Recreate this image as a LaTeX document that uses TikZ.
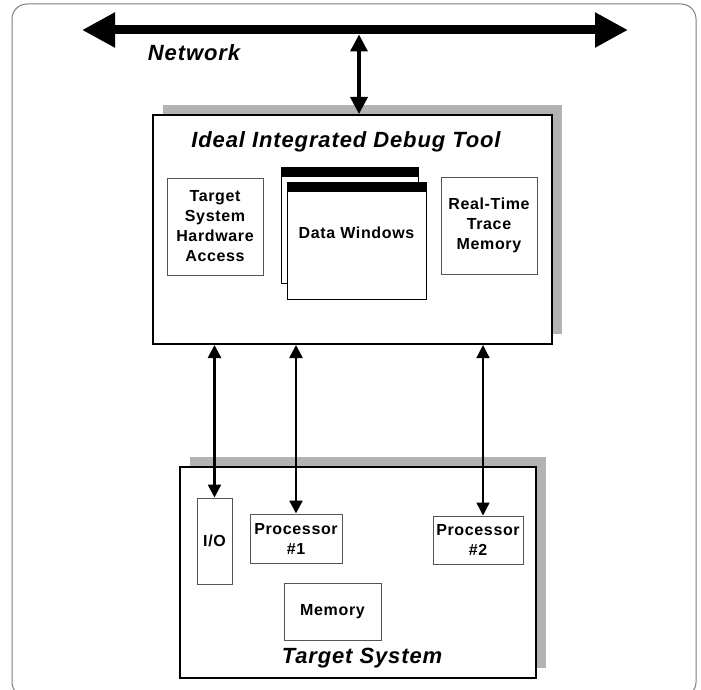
\documentclass[tikz,border=0pt]{standalone}
\usepackage{fontspec}
\usepackage{tikz}
\usetikzlibrary{positioning,calc,arrows.meta,shadows}
\newfontfamily\diagfont{Liberation Sans}[LetterSpace=4]
\definecolor{Shade}{HTML}{B3B3B3}
\definecolor{Edge}{HTML}{555555}
\definecolor{Frame}{HTML}{808080}
\tikzset{
  tool box/.style={draw=black,line width=2pt,fill=white,
    drop shadow={shadow xshift=10pt,shadow yshift=10pt,fill=Shade,opacity=1}},
  part box/.style={draw=Edge,line width=1pt,fill=white,align=center,inner sep=0pt,
    font=\diagfont\bfseries\fontsize{16}{20}\selectfont},
  data window/.style={draw=black,line width=1pt,fill=white,inner sep=0pt,
    path picture={\fill[black] (path picture bounding box.north west)
      rectangle ([yshift=-10pt]path picture bounding box.north east);}},
  box title/.style={font=\diagfont\bfseries\itshape\fontsize{22}{25}\selectfont},
  part label/.style={font=\diagfont\bfseries\fontsize{16}{20}\selectfont},
  bus link/.style={{Triangle[length=33pt,width=33pt]}-{Triangle[length=33pt,width=33pt]},line width=9pt},
  up link/.style={{Triangle[length=17pt,width=17pt]}-{Triangle[length=17pt,width=17pt]},line width=3.5pt},
  probe link/.style={{Triangle[length=13pt,width=13pt]}-{Triangle[length=13pt,width=13pt]},line width=2.5pt}
}
\begin{document}
\begin{tikzpicture}[x=1pt,y=-1pt]
  \useasboundingbox (0,0) rectangle (701,690);
  \draw[Frame,line width=1pt,rounded corners=15pt] (12,4) rectangle (696,697);

  % network bus
  \coordinate (netL) at (82,30);
  \coordinate (netR) at (628,30);
  \coordinate (netT) at (359,34.5);
  \draw[bus link] (netL) -- (netR);
  \node[box title] (network) at (194,53) {Network};

  % debug tool
  \node[tool box,minimum width=399pt,minimum height=229pt] (tool) at (352.5,229.5) {};
  \node[box title] (tooltitle) at (346,142) {Ideal Integrated Debug Tool};
  \node[part box,minimum width=96pt,minimum height=97pt] (access) at (215,226.5) {Target\\System\\Hardware\\Access};
  \node[data window,minimum width=137pt,minimum height=116pt] (backwin) at (349.5,225) {};
  \node[data window,minimum width=139pt,minimum height=117pt] (frontwin) at (356.5,240.5) {};
  \node[part label] (winlabel) at ([yshift=7.5pt]frontwin.center) {Data Windows};
  \node[part box,minimum width=96pt,minimum height=97pt] (trace) at (489,225.5) {Real-Time\\Trace\\Memory};

  % target system
  \node[tool box,minimum width=356pt,minimum height=211pt] (target) at (358,572.5) {};
  \node[box title] (targettitle) at (362,658) {Target System};
  \node[part box,minimum width=35pt,minimum height=86pt] (io) at (214.5,541) {I/O};
  \node[part box,minimum width=92pt,minimum height=49pt] (proc1) at (296,538.5) {Processor\\\#1};
  \node[part box,minimum width=90pt,minimum height=48pt] (proc2) at (478,540) {Processor\\\#2};
  \node[part box,minimum width=97pt,minimum height=57pt] (memory) at (332.5,611.5) {Memory};
  \coordinate (p2top) at ([xshift=5pt]proc2.north);

  \draw[up link] (netT) -- (netT |- tool.north);
  \draw[probe link] (io.north |- tool.south) -- (io.north);
  \draw[probe link] (proc1.north |- tool.south) -- (proc1.north);
  \draw[probe link,line width=1.3pt] (p2top |- tool.south) -- (p2top);
\end{tikzpicture}
\end{document}
